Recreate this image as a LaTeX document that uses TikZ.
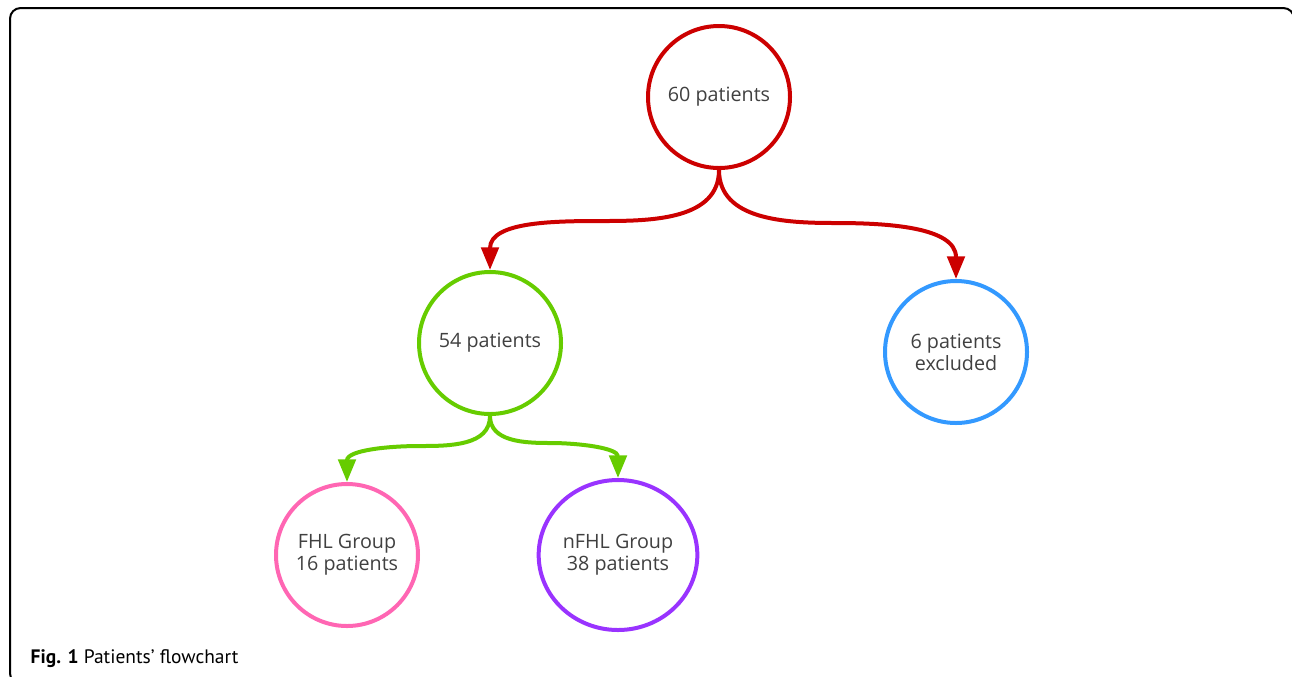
\documentclass[tikz,border=0pt]{standalone}
\usepackage{fontspec}
\setmainfont{Open Sans}
\newfontfamily\capfont{PT Sans}
\usetikzlibrary{arrows.meta,shapes.geometric}
\definecolor{redline}{HTML}{CC0000}
\definecolor{greenline}{HTML}{66CC00}
\definecolor{blueline}{HTML}{3399FF}
\definecolor{pinkline}{HTML}{FF66B3}
\definecolor{purpleline}{HTML}{9933FF}
\definecolor{textgray}{HTML}{404040}
\begin{document}
\begin{tikzpicture} [
   x=0.75pt, y=-0.75pt,
   n/.style={circle, draw, line width=3pt, minimum size=106.5pt, inner sep=0pt,
      align=center, text=textgray, font=\fontsize{14.8}{16.5}\selectfont},
   link/.style={line width=3pt, -{Triangle[width=13pt,length=17pt]}}
]
   \useasboundingbox (0,0) rectangle (1292,676);
   \clip (0,0) rectangle (1292,676);
   % frame
   \draw [line width=1.5pt, rounded corners=8] (10,8) rectangle (1294,684);

   \node (all) [n, draw=redline] at (719,97) {60 patients};
   \node (kept) [n, draw=greenline] at (490,343) {54 patients};
   \node (excl) [n, draw=blueline] at (956,352) {6 patients\\excluded};
   \node (fhl) [n, draw=pinkline] at (347,555) {FHL Group\\16 patients};
   \node (nfhl) [n, ellipse, draw=purpleline, minimum width=119pt,
      minimum height=112.5pt] at (618,555) {nFHL Group\\38 patients};

   \coordinate (al) at (605,221);
   \coordinate (ar) at (835,223);
   \coordinate (kl) at (420,446);
   \coordinate (kr) at (550,443);

   \draw [link, redline] (all.south) to[out=-90,in=0] (al)
      to[out=180,in=90] (kept.north);
   \draw [link, redline] (all.south) to[out=-90,in=180] (ar)
      to[out=0,in=90] (excl.north);
   \draw [link, greenline] (kept.south) to[out=-90,in=0] (kl)
      to[out=180,in=90] (fhl.north);
   \draw [link, greenline] (kept.south) to[out=-90,in=180] (kr)
      to[out=0,in=90] (nfhl.north);

   \node (cap) [anchor=base west, font=\capfont\fontsize{14.6}{16}\selectfont]
      at (26,663) {\textbf{Fig. 1} Patients’ flowchart};
\end{tikzpicture}
\end{document}
